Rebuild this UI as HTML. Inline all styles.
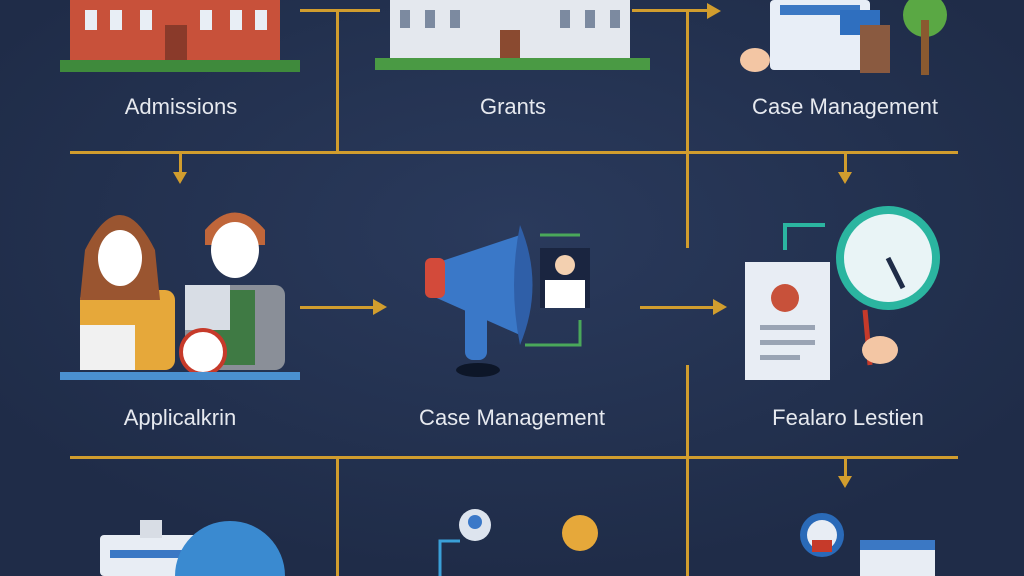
<!DOCTYPE html>
<html><head><meta charset="utf-8"><style>
html,body{margin:0;padding:0;width:1024px;height:576px;overflow:hidden}
body{background:#1f2c48;position:relative;font-family:"Liberation Sans",sans-serif}
.l{position:absolute;background:#d19d2e}
.t{position:absolute;color:#e6e9ef;font-size:22px;transform:translateX(-50%);white-space:nowrap}
svg{position:absolute;left:0;top:0;display:block}
</style></head><body>
<svg width="1024" height="576" viewBox="0 0 1024 576">
<defs><radialGradient id="g" cx="50%" cy="40%" r="60%"><stop offset="0" stop-color="#2a3a5c"/><stop offset="1" stop-color="#1f2c48"/></radialGradient></defs>
<rect width="1024" height="576" fill="url(#g)"/>
<rect x="70" y="0" width="210" height="62" fill="#c8513a"/>
<g fill="#e8eef5"><rect x="85" y="10" width="12" height="20"/><rect x="110" y="10" width="12" height="20"/><rect x="140" y="10" width="12" height="20"/><rect x="200" y="10" width="12" height="20"/><rect x="230" y="10" width="12" height="20"/><rect x="255" y="10" width="12" height="20"/></g>
<rect x="165" y="25" width="22" height="37" fill="#8a3a2a"/>
<rect x="60" y="60" width="240" height="12" fill="#3f8a3c"/>
<rect x="390" y="0" width="240" height="62" fill="#e4e8ee"/>
<g fill="#7c8aa0"><rect x="400" y="10" width="10" height="18"/><rect x="425" y="10" width="10" height="18"/><rect x="450" y="10" width="10" height="18"/><rect x="560" y="10" width="10" height="18"/><rect x="585" y="10" width="10" height="18"/><rect x="610" y="10" width="10" height="18"/></g>
<rect x="500" y="30" width="20" height="32" fill="#8a4a30"/>
<rect x="375" y="58" width="275" height="12" fill="#4a9a44"/>
<rect x="770" y="0" width="100" height="70" rx="4" fill="#e8eef7"/>
<rect x="780" y="5" width="80" height="10" fill="#3b78c4"/>
<rect x="840" y="10" width="40" height="25" fill="#2f6fbf"/>
<rect x="860" y="25" width="30" height="48" fill="#8a5a40"/>
<circle cx="925" cy="15" r="22" fill="#5aa844"/><rect x="921" y="20" width="8" height="55" fill="#8a5a30"/>
<ellipse cx="755" cy="60" rx="15" ry="12" fill="#f3c6a4"/>
<rect x="80" y="290" width="95" height="80" rx="10" fill="#e6a83a"/>
<path d="M85 250 q35 -70 70 0 l5 50 h-80z" fill="#9a5530"/>
<ellipse cx="120" cy="258" rx="22" ry="28" fill="#fff"/>
<rect x="185" y="285" width="100" height="85" rx="10" fill="#8a8f98"/>
<rect x="210" y="290" width="45" height="75" fill="#3f7a44"/>
<path d="M205 230 q30 -35 60 0 v15 h-60z" fill="#c0663a"/>
<ellipse cx="235" cy="250" rx="24" ry="28" fill="#fff"/>
<rect x="80" y="325" width="55" height="45" fill="#f1f1f1"/>
<rect x="185" y="285" width="45" height="45" fill="#d8dde5"/>
<circle cx="203" cy="352" r="22" fill="#fff" stroke="#c63a2a" stroke-width="4"/>
<rect x="60" y="372" width="240" height="8" fill="#4a90d0"/>
<path d="M430 265 L520 235 L520 335 L430 295z" fill="#3a78c8"/>
<rect x="425" y="258" width="20" height="40" rx="6" fill="#d34a3a"/>
<path d="M520 225 q25 60 0 120 q-12 -60 0 -120z" fill="#2f5fa8"/>
<rect x="465" y="300" width="22" height="60" rx="8" fill="#3a78c8"/>
<ellipse cx="478" cy="370" rx="22" ry="7" fill="#0d1628"/>
<rect x="540" y="248" width="50" height="60" fill="#1a2540"/>
<circle cx="565" cy="265" r="10" fill="#f3d0b0"/><rect x="545" y="280" width="40" height="28" fill="#fff"/>
<path d="M525 345 h55 v-25" stroke="#4aa85a" stroke-width="3" fill="none"/>
<path d="M540 235 h40" stroke="#4aa85a" stroke-width="3" fill="none"/>
<rect x="745" y="262" width="85" height="118" fill="#e8edf4"/>
<circle cx="785" cy="298" r="14" fill="#c8513a"/>
<g fill="#9aa4b4"><rect x="760" y="325" width="55" height="5"/><rect x="760" y="340" width="55" height="5"/><rect x="760" y="355" width="40" height="5"/></g>
<circle cx="888" cy="258" r="52" fill="#2bb5a0"/><circle cx="888" cy="258" r="44" fill="#e9f4f6"/>
<path d="M888 258 l15 30" stroke="#1f2c48" stroke-width="5"/>
<path d="M865 310 l5 55" stroke="#c63a2a" stroke-width="5"/>
<ellipse cx="880" cy="350" rx="18" ry="14" fill="#f3c6a4"/>
<path d="M785 250 v-25 h40" stroke="#2bb5a0" stroke-width="4" fill="none"/>
<rect x="100" y="535" width="105" height="41" rx="4" fill="#e8edf4"/><rect x="140" y="520" width="22" height="18" fill="#d8dde5"/>
<rect x="110" y="550" width="85" height="8" fill="#3b78c4"/>
<path d="M175 576 a55 55 0 0 1 110 0z" fill="#3a8ad0"/>
<circle cx="475" cy="525" r="16" fill="#dde4ee"/><circle cx="475" cy="522" r="7" fill="#3a78c8"/>
<path d="M440 576 v-35 h20" stroke="#3aa0d8" stroke-width="3" fill="none"/>
<circle cx="580" cy="533" r="18" fill="#e6a83a"/>
<circle cx="822" cy="535" r="22" fill="#2a6ab8"/><circle cx="822" cy="535" r="15" fill="#e8edf4"/><rect x="812" y="540" width="20" height="12" fill="#c63a2a"/>
<rect x="860" y="545" width="75" height="31" fill="#e8edf4"/><rect x="860" y="540" width="75" height="10" fill="#3b78c4"/>
</svg>
<div class="l" style="left:300px;top:9px;width:80px;height:3px"></div>
<div class="l" style="left:632px;top:9px;width:78px;height:3px"></div>
<div style="position:absolute;left:707px;top:3px;width:0;height:0;border-left:14px solid #d19d2e;border-top:8px solid transparent;border-bottom:8px solid transparent"></div>
<div class="l" style="left:336px;top:10px;width:3px;height:142px"></div>
<div class="l" style="left:686px;top:10px;width:3px;height:238px"></div>
<div class="l" style="left:70px;top:151px;width:888px;height:3px"></div>
<div class="l" style="left:179px;top:154px;width:3px;height:20px"></div>
<div style="position:absolute;left:173px;top:172px;width:0;height:0;border-top:12px solid #d19d2e;border-left:7px solid transparent;border-right:7px solid transparent"></div>
<div class="l" style="left:844px;top:154px;width:3px;height:20px"></div>
<div style="position:absolute;left:838px;top:172px;width:0;height:0;border-top:12px solid #d19d2e;border-left:7px solid transparent;border-right:7px solid transparent"></div>
<div class="l" style="left:300px;top:306px;width:75px;height:3px"></div>
<div style="position:absolute;left:373px;top:299px;width:0;height:0;border-left:14px solid #d19d2e;border-top:8px solid transparent;border-bottom:8px solid transparent"></div>
<div class="l" style="left:640px;top:306px;width:75px;height:3px"></div>
<div style="position:absolute;left:713px;top:299px;width:0;height:0;border-left:14px solid #d19d2e;border-top:8px solid transparent;border-bottom:8px solid transparent"></div>
<div class="l" style="left:686px;top:365px;width:3px;height:211px"></div>
<div class="l" style="left:70px;top:456px;width:888px;height:3px"></div>
<div class="l" style="left:336px;top:458px;width:3px;height:118px"></div>
<div class="l" style="left:844px;top:458px;width:3px;height:20px"></div>
<div style="position:absolute;left:838px;top:476px;width:0;height:0;border-top:12px solid #d19d2e;border-left:7px solid transparent;border-right:7px solid transparent"></div>
<div class="t" style="left:181px;top:94px">Admissions</div>
<div class="t" style="left:513px;top:94px">Grants</div>
<div class="t" style="left:845px;top:94px">Case Management</div>
<div class="t" style="left:180px;top:405px">Applicalkrin</div>
<div class="t" style="left:512px;top:405px">Case Management</div>
<div class="t" style="left:848px;top:405px">Fealaro Lestien</div>
</body></html>
